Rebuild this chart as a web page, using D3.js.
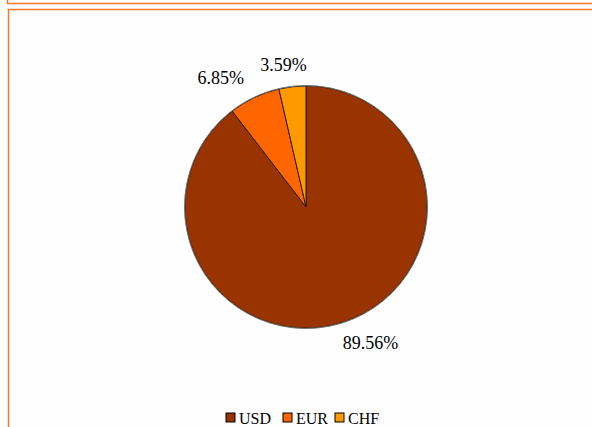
<!DOCTYPE html>
<html>
<head>
<meta charset="utf-8">
<script src="https://cdn.jsdelivr.net/npm/d3@7"></script>
<style>
  body { margin: 0; background: #fff; }
  svg { display: block; }
</style>
</head>
<body>
<div id="chart"></div>
<script>
// currency share
const currencies = ["USD", "EUR", "CHF"];
const shares = [89.56, 6.85, 3.59];
const colors = ["#993300", "#ff6600", "#ff9900"];

const width = 592, height = 427;
const cx = 306, cy = 207, radius = 121;

const svg = d3.select("#chart").append("svg")
    .attr("width", width)
    .attr("height", height);

svg.append("rect").attr("width", width).attr("height", height).style("fill", "#fefefe");

// panel frames (previous panel bottom + this panel)
svg.append("path")
    .attr("d", "M7.5,-5V3.5H600")
    .style("fill", "none").style("stroke", "#f57a2c").style("stroke-width", 1.5);
svg.append("path")
    .attr("d", "M8.5,440V9.5H600")
    .style("fill", "none").style("stroke", "#f57a2c").style("stroke-width", 1.5);

const data = currencies.map((c, i) => ({name: c, value: shares[i], color: colors[i]}));

const pie = d3.pie().sort(null).value(d => d.value);
const arc = d3.arc().innerRadius(0).outerRadius(radius);

const g = svg.append("g").attr("transform", "translate(" + cx + "," + cy + ")");
const arcs = pie(data);

g.selectAll("path.slice").data(arcs).enter()
    .append("path")
    .attr("class", "slice")
    .attr("d", arc)
    .style("fill", d => d.data.color)
    .style("stroke", "#2a1a10")
    .style("stroke-width", 1);

// outer rim
g.append("circle").attr("r", radius + 0.5)
    .style("fill", "none").style("stroke", "#777").style("stroke-width", 1);

const mid = d => (d.startAngle + d.endAngle) / 2;
g.selectAll("text.lbl").data(arcs).enter()
    .append("text")
    .attr("class", "lbl")
    .attr("x", d => 200 * Math.sin(mid(d)))
    .attr("y", d => -143 * Math.cos(mid(d)))
    .attr("dy", "0.35em")
    .attr("text-anchor", "middle")
    .style("font-family", "Liberation Serif")
    .style("font-size", "18px")
    .style("fill", "#000")
    .text(d => d.data.value.toFixed(2) + "%");

// legend
const legend = svg.append("g").attr("transform", "translate(226,413)");
const offs = [0, 57, 109];
const items = legend.selectAll("g").data(data).enter().append("g")
    .attr("transform", (d, i) => "translate(" + offs[i] + ",0)");
items.append("rect")
    .attr("width", 9).attr("height", 9)
    .style("fill", d => d.color)
    .style("stroke", "#000").style("stroke-width", 1);
items.append("text")
    .attr("x", 13).attr("y", 11)
    .style("font-family", "Liberation Serif")
    .style("font-size", "16px")
    .text(d => d.name);
</script>
</body>
</html>
